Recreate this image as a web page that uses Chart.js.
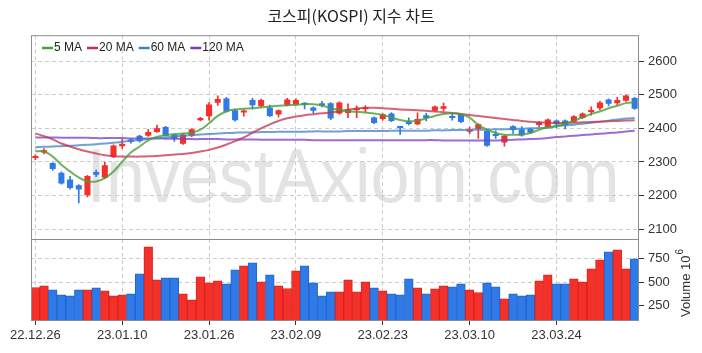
<!DOCTYPE html>
<html>
<head>
<meta charset="utf-8">
<script src="https://cdn.jsdelivr.net/npm/chart.js@4/dist/chart.umd.min.js"></script>
<style>
  html, body { margin: 0; padding: 0; background: #fff; }
  #wrap { position: relative; width: 702px; height: 353px; }
  #wrap canvas { position: absolute; left: 0; top: 0; }
</style>
</head>
<body>
<div id="wrap">
  <canvas id="priceChart" width="702" height="353"></canvas>
  <canvas id="volumeChart" width="702" height="353"></canvas>
</div>
<script>
// trading days (yy.mm.dd)
const dates = [
  '22.12.26','22.12.27','22.12.28','22.12.29','23.01.02','23.01.03','23.01.04','23.01.05','23.01.06','23.01.09',
  '23.01.10','23.01.11','23.01.12','23.01.13','23.01.16','23.01.17','23.01.18','23.01.19','23.01.20','23.01.25',
  '23.01.26','23.01.27','23.01.30','23.01.31','23.02.01','23.02.02','23.02.03','23.02.06','23.02.07','23.02.08',
  '23.02.09','23.02.10','23.02.13','23.02.14','23.02.15','23.02.16','23.02.17','23.02.20','23.02.21','23.02.22',
  '23.02.23','23.02.24','23.02.27','23.02.28','23.03.02','23.03.03','23.03.06','23.03.07','23.03.08','23.03.09',
  '23.03.10','23.03.13','23.03.14','23.03.15','23.03.16','23.03.17','23.03.20','23.03.21','23.03.22','23.03.23',
  '23.03.24','23.03.27','23.03.28','23.03.29','23.03.30','23.03.31','23.04.03','23.04.04','23.04.05','23.04.06'
];

// OHLC
const opens = [
  2312,2328,2297,2268,2248,2231,2201,2270,2253,2315, 2347,2367,2378,2378,2389,2404,2381,2354,2378,2424,
  2436,2476,2489,2454,2447,2484,2466,2462,2441,2469, 2471,2474,2462,2475,2475,2444,2446,2454,2457,2432,
  2428,2444,2405,2420,2412,2439,2452,2458,2436,2442, 2390,2398,2392,2383,2358,2406,2397,2398,2410,2404,
  2423,2423,2420,2431,2449,2460,2486,2475,2482,2490
];
const highs = [
  2321,2340,2298,2271,2257,2233,2260,2276,2300,2351, 2368,2369,2380,2397,2410,2406,2383,2384,2399,2433,
  2477,2497,2492,2457,2455,2489,2487,2469,2455,2489, 2488,2477,2464,2480,2477,2479,2473,2467,2468,2434,
  2444,2447,2406,2431,2446,2445,2467,2475,2444,2444, 2404,2414,2394,2393,2380,2408,2405,2400,2420,2428,
  2425,2425,2438,2446,2464,2480,2488,2492,2500,2492
];
const lows = [
  2307,2324,2275,2234,2219,2178,2196,2256,2251,2313, 2340,2356,2359,2376,2388,2377,2361,2352,2375,2422,
  2424,2468,2448,2421,2436,2458,2463,2435,2434,2467, 2469,2458,2445,2464,2426,2442,2432,2432,2447,2414,
  2424,2420,2382,2410,2410,2422,2450,2452,2424,2417, 2384,2370,2346,2370,2347,2385,2377,2385,2405,2402,
  2402,2398,2418,2429,2439,2455,2467,2470,2480,2456
];
const closes = [
  2317,2335,2279,2236,2223,2218,2258,2262,2290,2349, 2354,2360,2362,2389,2400,2378,2369,2382,2397,2431,
  2471,2487,2450,2424,2453,2469,2484,2437,2454,2486, 2484,2470,2452,2468,2429,2477,2456,2458,2462,2416,
  2442,2422,2401,2413,2428,2431,2465,2466,2431,2419, 2397,2412,2348,2377,2378,2395,2379,2387,2418,2426,
  2412,2409,2436,2444,2454,2477,2473,2484,2498,2458
];

// moving averages
const ma5 = [
  2332,2331,2316,2292,2272,2254,2243,2242,2252,2272, 2301,2328,2346,2364,2375,2380,2383,2385,2387,2396,
  2415,2437,2451,2456,2458,2460,2462,2465,2467,2469, 2470,2472,2472,2468,2460,2455,2451,2449,2447,2444,
  2440,2432,2425,2421,2423,2430,2437,2443,2445,2442, 2432,2410,2396,2386,2381,2381,2382,2386,2396,2403,
  2407,2414,2423,2433,2443,2450,2460,2467,2475,2477
];
const ma20 = [
  2385,2377,2367,2355,2346,2338,2331,2325,2320,2317, 2316,2316,2316,2317,2318,2320,2322,2324,2327,2331,
  2336,2343,2352,2362,2373,2387,2400,2412,2422,2430, 2435,2439,2442,2445,2447,2451,2455,2459,2461,2461,
  2460,2458,2456,2455,2454,2452,2450,2448,2446,2443, 2440,2437,2434,2431,2428,2425,2422,2420,2418,2417,
  2416,2416,2417,2418,2419,2420,2421,2422,2423,2424
];
const ma60 = [
  2344,2345,2346,2347,2348,2350,2351,2353,2355,2357, 2360,2363,2366,2368,2371,2373,2376,2378,2380,2382,
  2383,2385,2386,2387,2388,2388,2389,2389,2390,2390, 2390,2390,2391,2391,2391,2391,2392,2392,2392,2392,
  2392,2393,2393,2393,2393,2393,2394,2394,2395,2395, 2395,2396,2396,2397,2397,2398,2399,2400,2401,2402,
  2406,2409,2411,2414,2417,2420,2423,2426,2429,2431
];
const ma120 = [
  2373,2373,2373,2372,2372,2372,2372,2371,2371,2371, 2371,2370,2370,2370,2370,2369,2369,2369,2368,2368,
  2368,2368,2367,2367,2367,2367,2366,2366,2366,2366, 2366,2366,2365,2365,2365,2365,2365,2365,2365,2365,
  2365,2365,2365,2365,2365,2365,2365,2364,2364,2364, 2364,2364,2364,2364,2365,2366,2367,2368,2369,2371,
  2374,2376,2378,2380,2382,2384,2386,2388,2391,2393
];

// volume (x 10^6)
const volumes = [
  445,463,420,367,356,420,420,441,410,356, 367,378,590,878,527,548,548,378,314,559,
  495,516,484,633,676,707,505,580,463,434, 622,676,495,356,399,399,527,399,505,441,
  410,378,367,537,441,378,431,463,452,484, 420,392,495,452,324,378,356,367,516,580,
  484,484,537,505,644,740,825,846,644,750
];

const priceTicks = [2100, 2200, 2300, 2400, 2500, 2600];
const volumeTicks = [250, 500, 750];

const UP = '#f4302a', DOWN = '#2f7ae6';
const UP_EDGE = '#d8221c', DOWN_EDGE = '#1f66cc';
const GRID = '#cccccc';

// narrow axis font if the system has it, otherwise a smaller regular one
function hasFont(name) {
  const c = document.createElement('canvas').getContext('2d');
  const s = 'mmmmmlliWW 0123456789';
  c.font = '20px monospace';
  const a = c.measureText(s).width;
  c.font = "20px '" + name + "', monospace";
  return c.measureText(s).width !== a;
}
const axisFont = hasFont('Liberation Sans Narrow')
  ? { family: "'Liberation Sans Narrow', sans-serif", size: 15 }
  : { family: "'Liberation Sans', Arial, sans-serif", size: 13 };
const axisFontCss = size => size + 'px ' + axisFont.family;

const isUp = closes.map((c, i) => c >= opens[i]);
const candleColors = isUp.map(u => (u ? UP : DOWN));
const volColors = isUp.map(u => (u ? UP : DOWN));
const volEdges = isUp.map(u => (u ? UP_EDGE : DOWN_EDGE));

const maSets = [
  { label: '5 MA', data: ma5, color: '#4a9e37', line: 'rgba(74,158,55,0.8)' },
  { label: '20 MA', data: ma20, color: '#c4304a', line: 'rgba(196,48,74,0.75)' },
  { label: '60 MA', data: ma60, color: '#3a84c8', line: 'rgba(58,132,200,0.75)' },
  { label: '120 MA', data: ma120, color: '#7a3cc6', line: 'rgba(122,60,198,0.75)' }
];

const vGrid = ctx => (ctx.index % 10 === 0 ? GRID : 'rgba(0,0,0,0)');
const vTick = ctx => (ctx.index % 10 === 0 ? '#333' : 'rgba(0,0,0,0)');

// frame around the plot area
const framePlugin = {
  id: 'frame',
  afterDraw(chart) {
    const a = chart.chartArea, ctx = chart.ctx;
    ctx.save();
    ctx.strokeStyle = '#8c8c8c';
    ctx.lineWidth = 1;
    ctx.strokeRect(a.left + 0.5, a.top + 0.5, a.right - a.left - 1, a.bottom - a.top);
    ctx.restore();
  }
};

// watermark behind everything
const watermarkPlugin = {
  id: 'watermark',
  beforeDraw(chart) {
    const ctx = chart.ctx;
    ctx.save();
    ctx.font = "76px 'Liberation Sans', Arial, sans-serif";
    ctx.fillStyle = '#e3e3e3';
    ctx.textBaseline = 'alphabetic';
    const text = 'InvestAxiom.com';
    const w = ctx.measureText(text).width;
    ctx.translate(353, 202);
    ctx.scale(533 / w, 1);
    ctx.textAlign = 'center';
    ctx.fillText(text, 0, 0);
    ctx.restore();
  }
};

// legend inside the plot, top-left
const maLegendPlugin = {
  id: 'maLegend',
  afterDraw(chart) {
    const ctx = chart.ctx;
    ctx.save();
    ctx.font = "12px 'Liberation Sans', Arial, sans-serif";
    ctx.textBaseline = 'middle';
    let x = 42;
    const y = 48;
    maSets.forEach(s => {
      ctx.strokeStyle = s.color;
      ctx.lineWidth = 2.5;
      ctx.beginPath();
      ctx.moveTo(x, y);
      ctx.lineTo(x + 11, y);
      ctx.stroke();
      ctx.fillStyle = '#222';
      ctx.fillText(s.label, x + 12, y);
      x += 12 + ctx.measureText(s.label).width + 5;
    });
    ctx.restore();
  }
};

// "Volume 10^6" axis title
const volTitlePlugin = {
  id: 'volTitle',
  afterDraw(chart) {
    const ctx = chart.ctx;
    ctx.save();
    ctx.translate(690, 317);
    ctx.rotate(-Math.PI / 2);
    ctx.fillStyle = '#333';
    ctx.textBaseline = 'alphabetic';
    ctx.font = axisFontCss(axisFont.size);
    ctx.fillText('Volume', 0, 0);
    const w = ctx.measureText('Volume ').width;
    ctx.fillText('10', w, 0);
    const w2 = ctx.measureText('10').width;
    ctx.font = axisFontCss(axisFont.size - 3);
    ctx.fillText('6', w + w2 + 1, -7);
    ctx.restore();
  }
};

const lineDatasets = maSets.map(s => ({
  type: 'line',
  label: s.label,
  data: s.data,
  borderColor: s.line,
  borderWidth: 2,
  pointRadius: 0,
  tension: 0.4,
  fill: false,
  order: 0
}));

// invisible left box so the plot starts at x=31 while the title stays centred on the page
const leftSpacer = {
  position: 'left',
  afterFit: s => { s.width = 31; },
  grid: { display: false },
  border: { display: false },
  ticks: { display: false }
};

new Chart(document.getElementById('priceChart').getContext('2d'), {
  type: 'bar',
  data: {
    labels: dates,
    datasets: [
      ...lineDatasets,
      {
        label: 'body',
        data: opens.map((o, i) => [o, closes[i]]),
        backgroundColor: candleColors,
        borderWidth: 0,
        barPercentage: 0.7,
        categoryPercentage: 1,
        minBarLength: 2,
        grouped: false,
        order: 1
      },
      {
        label: 'wick',
        data: lows.map((l, i) => [l, highs[i]]),
        backgroundColor: candleColors,
        borderWidth: 0,
        barThickness: 1,
        grouped: false,
        order: 2
      }
    ]
  },
  options: {
    responsive: false,
    animation: false,
    layout: { padding: { left: 0, right: 0, top: 0, bottom: 114 } },
    plugins: {
      legend: { display: false },
      tooltip: { enabled: false },
      title: {
        display: true,
        text: '코스피(KOSPI) 지수 차트',
        color: '#222',
        font: { family: "'Noto Sans CJK KR', sans-serif", size: 16, weight: 'normal' },
        padding: { top: 6, bottom: 10 }
      }
    },
    scales: {
      x: {
        offset: true,
        grid: { offset: false, color: vGrid, drawTicks: false },
        border: { display: false, dash: [4, 3] },
        ticks: { display: false, autoSkip: false }
      },
      y: {
        position: 'right',
        min: 2071,
        max: 2677,
        afterBuildTicks: s => { s.ticks = priceTicks.map(v => ({ value: v })); },
        afterFit: s => { s.width = 63; },
        grid: { color: GRID, tickLength: 5, tickColor: '#333' },
        border: { display: false, dash: [4, 3] },
        ticks: { color: '#333', padding: 4, font: axisFont, callback: v => String(v) }
      },
      yl: leftSpacer
    }
  },
  plugins: [watermarkPlugin, framePlugin, maLegendPlugin]
});

new Chart(document.getElementById('volumeChart').getContext('2d'), {
  type: 'bar',
  data: {
    labels: dates,
    datasets: [{
      label: 'Volume',
      data: volumes,
      backgroundColor: volColors,
      borderColor: volEdges,
      borderWidth: 1,
      barPercentage: 1,
      categoryPercentage: 1
    }]
  },
  options: {
    responsive: false,
    animation: false,
    layout: { padding: { left: 31, right: 0, top: 239, bottom: 0 } },
    plugins: { legend: { display: false }, tooltip: { enabled: false } },
    scales: {
      x: {
        offset: true,
        afterFit: s => { s.height = 33; },
        grid: { offset: false, color: vGrid, tickColor: vTick, tickLength: 5 },
        border: { display: false, dash: [4, 3] },
        ticks: {
          autoSkip: false,
          maxRotation: 0,
          minRotation: 0,
          padding: 3,
          color: '#333',
          font: axisFont,
          callback: (v, i) => (i % 10 === 0 ? dates[i] : '')
        }
      },
      y: {
        position: 'right',
        min: 100,
        max: 960,
        afterBuildTicks: s => { s.ticks = volumeTicks.map(v => ({ value: v })); },
        afterFit: s => { s.width = 63; },
        grid: { color: GRID, tickLength: 5, tickColor: '#333' },
        border: { display: false, dash: [4, 3] },
        ticks: { color: '#333', padding: 4, font: axisFont, callback: v => String(v) }
      }
    }
  },
  plugins: [framePlugin, volTitlePlugin]
});
</script>
</body>
</html>
